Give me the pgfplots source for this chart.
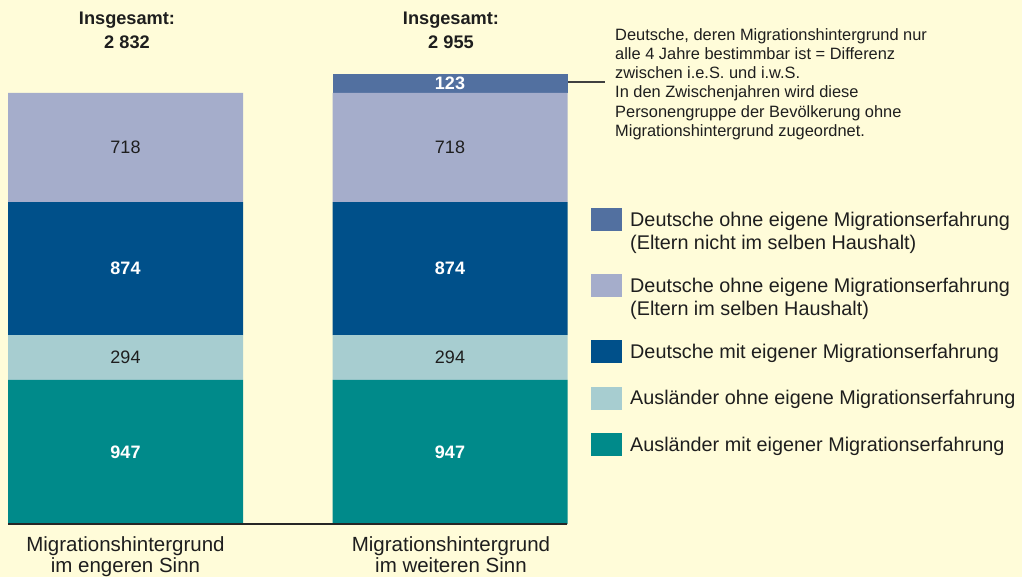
\documentclass[border=0pt]{standalone}
\usepackage{fontspec}
\setmainfont{Liberation Sans}
\usepackage{pgfplots}
\pgfplotsset{compat=1.18}

\definecolor{bg}{RGB}{255,252,217}
\definecolor{tealdark}{RGB}{0,138,138}
\definecolor{teallight}{RGB}{167,205,208}
\definecolor{navy}{RGB}{0,80,138}
\definecolor{lavender}{RGB}{165,173,203}
\definecolor{slate}{RGB}{82,112,160}
\definecolor{txt}{RGB}{30,30,30}

\newcommand\fs[2]{\fontsize{#1bp}{#2bp}\selectfont}

% legend swatches: centred on a one-line entry, or on the first line of a two-line one
\pgfplotsset{
  one line/.style={legend image code/.code={\fill[##1] (0bp,-11.5bp) rectangle (31bp,11.5bp);}},
  two line/.style={legend image code/.code={\fill[##1] (0bp,0bp) rectangle (31bp,23bp);}},
}
\tikzset{
  lightval/.style={font=\fs{18}{20}, text=txt},
  darkval/.style={font=\bfseries\fs{18}{20}, text=white},
}

\begin{document}
\begin{tikzpicture}
\fill[bg] (0,0) rectangle (1022bp,577bp);
\begin{axis}[
    at={(0,0)}, anchor=south west,
    scale only axis, width=1022bp, height=577bp,
    xmin=0, xmax=1022, ymin=-348.2, ymax=3443.0,
    hide axis, clip=false,
    ybar stacked, bar width=235,
    legend style={at={(axis cs:591,2076)}, anchor=north west, draw=none, fill=none,
        inner sep=0pt, row sep=23.5bp, column sep=8bp,
        font=\fs{19.8}{23}, nodes={align=left, inner sep=0pt, text=txt}},
    legend cell align=left,
    reverse legend,
]
\addplot[fill=tealdark, draw=none, one line] coordinates {(125.5,947) (450,947)};
\addlegendentry{Ausländer mit eigener Migrationserfahrung}
\addplot[fill=teallight, draw=none, one line] coordinates {(125.5,294) (450,294)};
\addlegendentry{Ausländer ohne eigene Migrationserfahrung}
\addplot[fill=navy, draw=none, one line] coordinates {(125.5,874) (450,874)};
\addlegendentry{Deutsche mit eigener Migrationserfahrung}
\addplot[fill=lavender, draw=none, two line] coordinates {(125.5,718) (450,718)};
\addlegendentry{Deutsche ohne eigene Migrationserfahrung\\(Eltern im selben Haushalt)}
\addplot[fill=slate, draw=none, two line] coordinates {(125.5,0) (450,123)};
\addlegendentry{Deutsche ohne eigene Migrationserfahrung\\(Eltern nicht im selben Haushalt)}

% anchor points for the labels, drawn after the axis so they sit on top of the bars
\coordinate (b0) at (axis cs:8,0);
\coordinate (b1) at (axis cs:567,0);
\coordinate (a1) at (axis cs:125.5,473.5);
\coordinate (a2) at (axis cs:125.5,1094);
\coordinate (a3) at (axis cs:125.5,1678);
\coordinate (a4) at (axis cs:125.5,2474);
\coordinate (c1) at (axis cs:450,473.5);
\coordinate (c2) at (axis cs:450,1094);
\coordinate (c3) at (axis cs:450,1678);
\coordinate (c4) at (axis cs:450,2474);
\coordinate (c5) at (axis cs:450,2893.5);

% totals
\node[align=center, font=\bfseries\fs{18.2}{24}, text=txt] at (axis cs:127,3243) {Insgesamt:\\2 832};
\node[align=center, font=\bfseries\fs{18.2}{24}, text=txt] at (axis cs:451,3243) {Insgesamt:\\2 955};

% note on the top segment
\draw[txt!85, line width=1.2bp] (axis cs:567,2904) -- (axis cs:605,2904);
\node[anchor=north west, align=left, inner sep=0pt, font=\fs{16.4}{19.2}, text=txt] at (axis cs:615,3258)
  {Deutsche, deren Migrationshintergrund nur\\alle 4 Jahre bestimmbar ist = Differenz\\zwischen i.e.S. und i.w.S.\\In den Zwischenjahren wird diese\\Personengruppe der Bevölkerung ohne\\Migrationshintergrund zugeordnet.};

% category labels
\node[anchor=north, align=center, inner sep=0pt, font=\fs{20.5}{21}, text=txt] at (axis cs:125.5,-82) {Migrationshintergrund\\im engeren Sinn};
\node[anchor=north, align=center, inner sep=0pt, font=\fs{20.5}{21}, text=txt] at (axis cs:451,-82) {Migrationshintergrund\\im weiteren Sinn};
\end{axis}

\draw[black!85, line width=1.5bp] (b0) -- (b1);
\node[darkval] at (a1) {947};
\node[lightval] at (a2) {294};
\node[darkval] at (a3) {874};
\node[lightval] at (a4) {718};
\node[darkval] at (c1) {947};
\node[lightval] at (c2) {294};
\node[darkval] at (c3) {874};
\node[lightval] at (c4) {718};
\node[darkval] at (c5) {123};
\end{tikzpicture}
\end{document}
